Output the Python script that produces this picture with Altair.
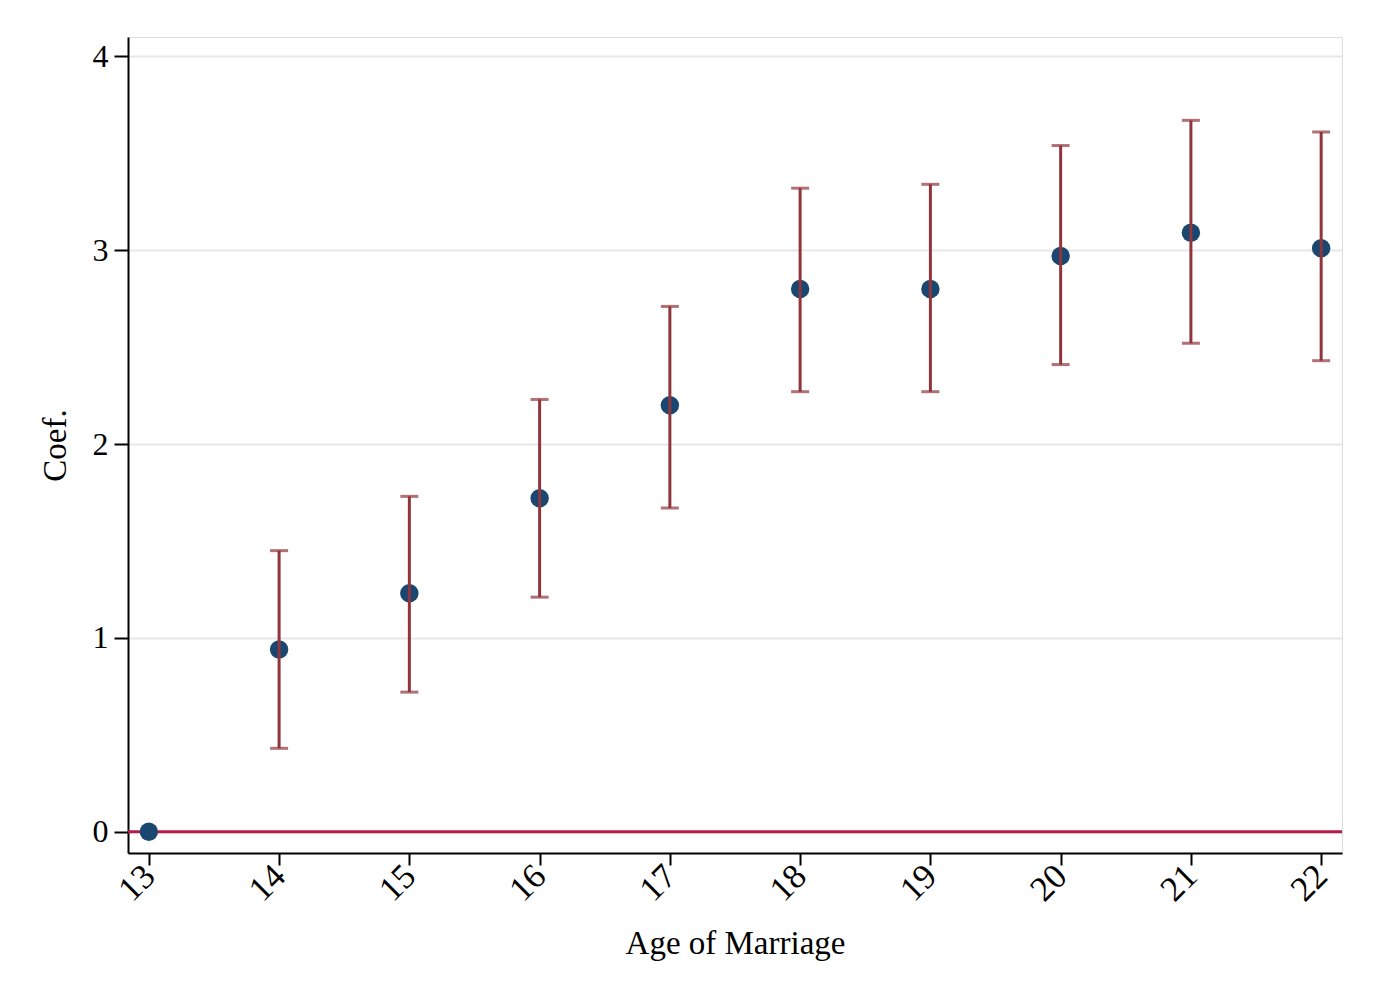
import altair as alt
import pandas as pd

ages = [13, 14, 15, 16, 17, 18, 19, 20, 21, 22]
coef = [0.0, 0.94, 1.23, 1.72, 2.20, 2.80, 2.80, 2.97, 3.09, 3.01]
ci_low = [None, 0.43, 0.72, 1.21, 1.67, 2.27, 2.27, 2.41, 2.52, 2.43]
ci_high = [None, 1.45, 1.73, 2.23, 2.71, 3.32, 3.34, 3.54, 3.67, 3.61]

df = pd.DataFrame({"age": ages, "coef": coef, "lo": ci_low, "hi": ci_high})
ci = df.dropna()

FONT = "Liberation Serif"
xs = alt.Scale(domain=[12.84, 22.16], nice=False, zero=False)
ys = alt.Scale(domain=[-0.11, 4.10], nice=False, zero=False)

xaxis = alt.Axis(values=ages, format="d", labelAngle=315, labelAlign="right", labelBaseline="middle",
                 labelPadding=5, tickSize=12, tickWidth=2, tickColor="black",
                 domainColor="black", domainWidth=2, grid=False,
                 labelFont=FONT, labelFontSize=35, labelColor="black",
                 titleFont=FONT, titleFontSize=33, titleFontWeight="normal",
                 titleColor="black", titlePadding=20, title="Age of Marriage")
yaxis = alt.Axis(values=[0, 1, 2, 3, 4], format="d", labelAngle=0, tickSize=14, tickWidth=2,
                 tickColor="black", domainColor="black", domainWidth=2,
                 grid=True, gridColor="#e8e6ea", gridWidth=2,
                 labelFont=FONT, labelFontSize=32, labelColor="black", labelPadding=6,
                 titleFont=FONT, titleFontSize=33, titleFontWeight="normal",
                 titleColor="black", titlePadding=20, title="Coef.")

base = alt.Chart(df)

zero = alt.Chart(pd.DataFrame({"z": [0]})).mark_rule(color="#b71c46", strokeWidth=3).encode(
    y=alt.Y("z:Q", scale=ys, axis=yaxis)
)

pts = base.mark_point(filled=True, color="#1a476f", size=340, opacity=1).encode(
    x=alt.X("age:Q", scale=xs, axis=xaxis),
    y=alt.Y("coef:Q", scale=ys, axis=yaxis),
)

rules = alt.Chart(ci).mark_rule(color="#90353b", strokeWidth=3).encode(
    x=alt.X("age:Q", scale=xs),
    y=alt.Y("lo:Q", scale=ys),
    y2="hi:Q",
)
caps_lo = alt.Chart(ci).mark_tick(color="#90353b", orient="horizontal", size=18, thickness=3).encode(
    x=alt.X("age:Q", scale=xs),
    y=alt.Y("lo:Q", scale=ys),
)
caps_hi = alt.Chart(ci).mark_tick(color="#90353b", orient="horizontal", size=18, thickness=3).encode(
    x=alt.X("age:Q", scale=xs),
    y=alt.Y("hi:Q", scale=ys),
)

chart = alt.layer(zero, pts, rules, caps_lo, caps_hi).properties(
    width=1214, height=816,
    autosize=alt.AutoSizeParams(type="none"),
    padding={"left": 120, "top": 29, "right": 20, "bottom": 120},
).configure_view(stroke=None, fill="white").configure(background="white")

chart.save("out.html", embed_options={"renderer": "svg", "actions": False})
